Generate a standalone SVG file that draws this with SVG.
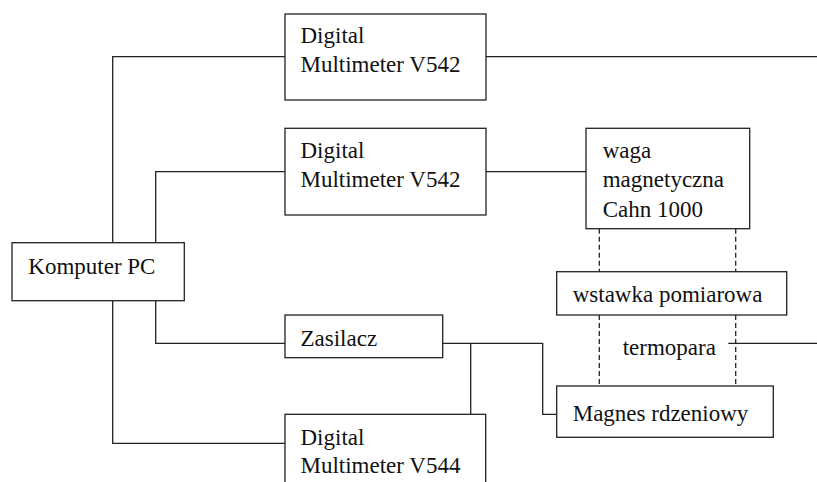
<svg xmlns="http://www.w3.org/2000/svg" width="817" height="482" viewBox="0 0 817 482">
<style>
rect{fill:#fff;stroke:#222;stroke-width:1.3}
.c{fill:none;stroke:#222;stroke-width:1.3}
.d{fill:none;stroke:#222;stroke-width:1.3;stroke-dasharray:5,3}
text{font-size:23px;fill:#111}
</style>
<rect x="0" y="0" width="817" height="482" style="stroke:none;fill:#fff"/>
<g id="connectors">
<path class="c" d="M285,56.7H112.7V242.7"/>
<path class="c" d="M486,56.7H817"/>
<path class="c" d="M285,171.7H155.7V242.7"/>
<path class="c" d="M486,171.7H586"/>
<path class="c" d="M112.7,300.7V443.3H285"/>
<path class="c" d="M155.7,300.7V343.3H285"/>
<path class="c" d="M442.7,343.3H542.7V414.3H556.7"/>
<path class="c" d="M470.7,343.3V414.3"/>
<path class="c" d="M728.3,343.3H817"/>
<path class="d" d="M599.3,228.7V271.7M735.7,228.7V271.7"/>
<path class="d" d="M599.3,315V386M735.7,315V386"/>
</g>
<g font-family="'Liberation Serif', 'Times New Roman', serif">
<g id="dmm1"><rect x="285" y="14" width="201" height="86"/><text x="300.5" y="43.3">Digital</text><text x="300.5" y="72.3">Multimeter V542</text></g>
<g id="dmm2"><rect x="285" y="128.3" width="201" height="86.7"/><text x="300.5" y="157.6">Digital</text><text x="300.5" y="186.6">Multimeter V542</text></g>
<g id="waga"><rect x="586" y="128.3" width="163.7" height="100.4"/><text x="602.7" y="158">waga</text><text x="602.7" y="187.3">magnetyczna</text><text x="602.7" y="216.7">Cahn 1000</text></g>
<g id="pc"><rect x="12" y="242.7" width="172.3" height="58"/><text x="28.3" y="274.3">Komputer PC</text></g>
<g id="wstawka"><rect x="556.7" y="271.7" width="230" height="43.3"/><text x="572.7" y="301.7">wstawka pomiarowa</text></g>
<g id="zasilacz"><rect x="285" y="315" width="157.7" height="42.7"/><text x="300.5" y="346">Zasilacz</text></g>
<g id="termopara"><text x="622.7" y="355">termopara</text></g>
<g id="magnes"><rect x="556.7" y="386" width="216.6" height="51.3"/><text x="572.7" y="420.7">Magnes rdzeniowy</text></g>
<g id="dmm3"><rect x="285" y="414.3" width="200.7" height="80"/><text x="300.5" y="445">Digital</text><text x="300.5" y="473.3">Multimeter V544</text></g>
</g>
</svg>
